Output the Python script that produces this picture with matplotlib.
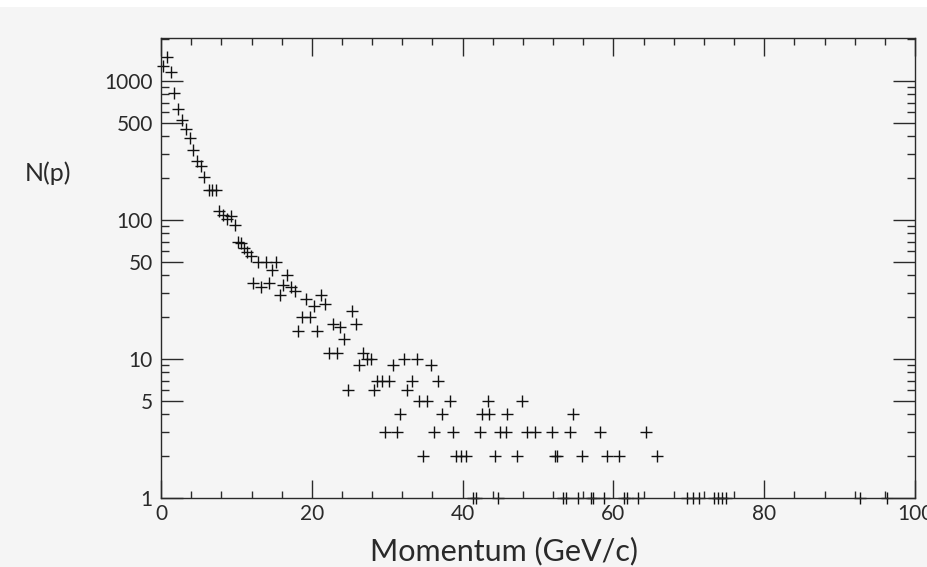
import matplotlib.pyplot as plt
from matplotlib.ticker import FixedLocator, FixedFormatter, LogLocator, MultipleLocator

# momentum bins (GeV/c) and counts
p = [0.3, 0.8, 1.3, 1.7, 2.3, 2.8, 3.3, 3.8, 4.3, 4.8, 5.3, 5.7, 6.3, 6.8, 7.3,
     7.7, 8.2, 8.8, 9.3, 9.8, 10.2, 10.6, 11.0, 11.4, 11.9, 12.2, 12.9, 13.2, 13.9, 14.3,
     14.7, 15.3, 15.8, 16.2, 16.7, 17.3, 17.8, 18.2, 18.7, 19.2, 19.8, 20.3, 20.7, 21.2, 21.8,
     22.3, 22.8, 23.3, 23.7, 24.3, 24.8, 25.3, 25.9, 26.3, 26.8, 27.3, 27.8, 28.2, 28.6, 29.3,
     29.7, 30.2, 30.8, 31.3, 31.7, 32.2, 32.6, 33.3, 33.9, 34.2, 34.7, 35.3, 35.8, 36.2, 36.7,
     37.3, 38.3, 38.7, 39.1, 39.8, 40.4, 41.4, 41.8, 42.3, 42.6, 43.4, 43.5, 44.3, 44.7, 44.9,
     45.7, 45.9, 47.2, 47.9, 48.5, 49.6, 51.9, 52.2, 52.5, 53.3, 53.7, 54.2, 54.6, 55.3, 55.8,
     57.0, 57.3, 58.2, 58.8, 59.2, 60.7, 61.4, 61.8, 63.3, 64.3, 65.8, 69.8, 70.6, 71.3, 73.3,
     73.9, 74.4, 74.9, 92.7, 96.3]
n = [1280, 1490, 1160, 820, 630, 520, 450, 390, 320, 265, 245, 205, 164, 164, 164,
     116, 109, 102, 107, 92, 69, 68, 63, 59, 55, 35, 50, 33, 50, 35,
     44, 50, 29, 34, 40, 33, 31, 16, 20, 27, 20, 24, 16, 29, 25,
     11, 18, 11, 17, 14, 6, 22, 18, 9, 11, 10, 10, 6, 7, 7,
     3, 7, 9, 3, 4, 10, 6, 7, 10, 5, 2, 5, 9, 3, 7,
     4, 5, 3, 2, 2, 2, 1, 1, 3, 4, 5, 4, 2, 1, 3,
     3, 4, 2, 5, 3, 3, 3, 2, 2, 1, 1, 3, 4, 1, 2,
     1, 1, 3, 1, 2, 2, 1, 1, 1, 3, 2, 1, 1, 1, 1,
     1, 1, 1, 1, 1]

y_ticks = [1, 5, 10, 50, 100, 500, 1000]
y_labels = ['1', '5', '10', '50', '100', '500', '1000']
x_ticks = [0, 20, 40, 60, 80, 100]

bg = '#f5f5f5'
ink = '#111111'
txt = '#2a2a2a'

plt.rcParams['font.family'] = ['Lato', 'DejaVu Sans']

fig = plt.figure(figsize=(9.27, 5.67), dpi=100, facecolor=bg)
# white strip along the top edge
fig.patches.append(plt.Rectangle((0, 0.987), 1, 0.013, transform=fig.transFigure,
                                 facecolor='white', edgecolor='none'))
ax = fig.add_axes([0.1737, 0.1217, 0.8134, 0.8113])
ax.set_facecolor(bg)

ax.plot(p, n, '+', color=ink, markersize=9, markeredgewidth=1.0, clip_on=False)

ax.set_yscale('log')
ax.set_xlim(0, 100)
ax.set_ylim(1, 2040)

ax.xaxis.set_major_locator(FixedLocator(x_ticks))
ax.xaxis.set_minor_locator(MultipleLocator(4))
ax.yaxis.set_major_locator(FixedLocator(y_ticks))
ax.yaxis.set_major_formatter(FixedFormatter(y_labels))
ax.yaxis.set_minor_locator(LogLocator(base=10, subs=[2, 3, 4, 6, 7, 8, 9]))
ax.yaxis.set_minor_formatter(FixedFormatter([]))

for s in ax.spines.values():
    s.set_color(txt)
    s.set_linewidth(1.0)

ax.tick_params(which='both', direction='in', top=True, right=True, color=txt,
               labelcolor=txt, labelsize=15)
ax.tick_params(axis='x', which='major', length=13, width=1.0, pad=4)
ax.tick_params(axis='x', which='minor', length=5, width=1.0)
ax.tick_params(axis='y', which='major', length=16, width=1.0, pad=6)
ax.tick_params(axis='y', which='minor', length=6, width=1.0)

ax.set_xlabel('Momentum (GeV/c)', fontsize=22, color=txt)
ax.xaxis.set_label_coords(0.455, -0.085)
ax.set_ylabel('N(p)', fontsize=18, color=txt, rotation=0)
ax.yaxis.set_label_coords(-0.15, 0.68)

fig.savefig('out.png', dpi=100, facecolor=bg)
